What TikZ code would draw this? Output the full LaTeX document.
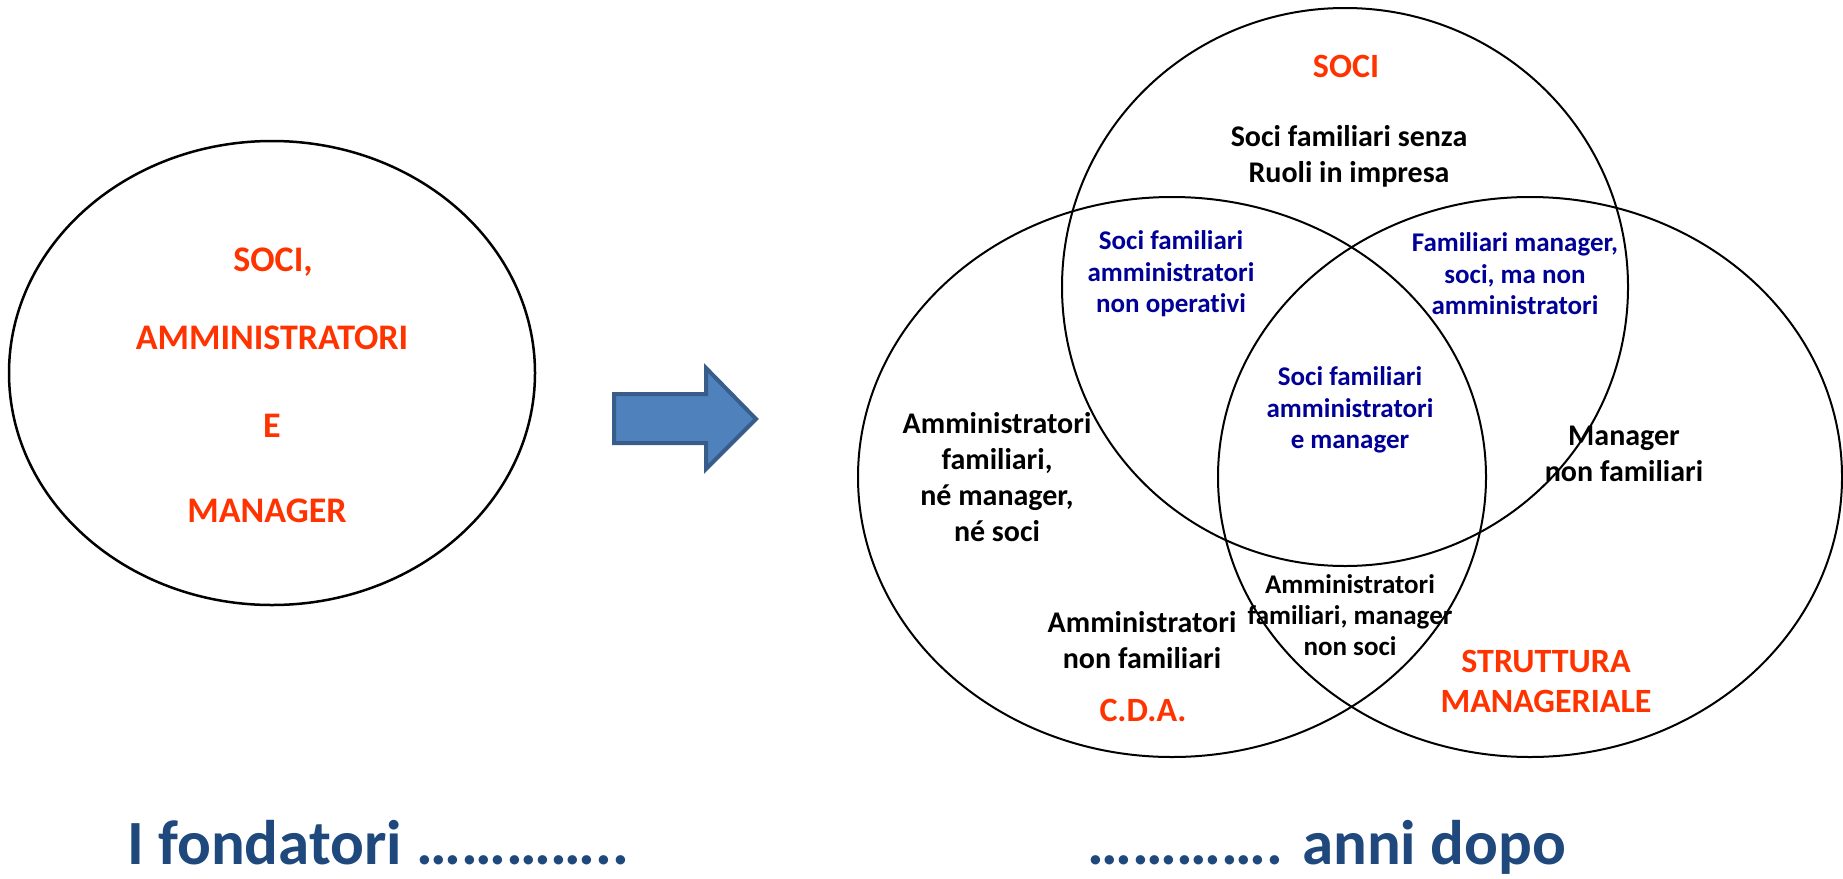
\documentclass[tikz,border=0pt]{standalone}
\usepackage{fontspec}
\setmainfont{Carlito}[Ligatures=CommonOff]
\usetikzlibrary{shapes.geometric}

\definecolor{hot}{RGB}{255,51,0}
\definecolor{navy}{RGB}{0,0,150}
\definecolor{titleblue}{RGB}{31,73,125}
\definecolor{arrowfill}{RGB}{79,129,189}
\definecolor{arrowedge}{RGB}{56,93,138}

\tikzset{
  set/.style={draw=black, line width=2pt, ellipse, inner sep=0pt},
  heading/.style={text=hot, font=\fontsize{34}{40}\selectfont\bfseries, align=center},
  founders/.style={text=hot, font=\fontsize{36}{43}\selectfont\bfseries},
  role/.style={text=black, font=\fontsize{30}{36}\selectfont\bfseries, align=center},
  family/.style={text=navy, font=\fontsize{27}{31.5}\selectfont\bfseries, align=center},
  small/.style={text=black, font=\fontsize{27}{31}\selectfont\bfseries, align=center},
  caption/.style={text=titleblue, font=\fontsize{63}{76}\selectfont\bfseries, anchor=base west, inner sep=0pt},
}

\begin{document}
\begin{tikzpicture}[x=1pt, y=-1pt]
  \useasboundingbox (0,0) rectangle (1843,878);

  % founders: one circle holding every role
  \node[set, line width=2.5pt, minimum width=526pt, minimum height=464pt] (founders) at (272,373) {};
  \node[founders] (f1) at (273,262) {SOCI,};
  \node[founders] (f2) at (272,338) {AMMINISTRATORI};
  \node[founders] (f3) at (272,426) {E};
  \node[founders] (f4) at (267,511) {MANAGER};

  % block arrow
  \draw[fill=arrowfill, draw=arrowedge, line width=4pt, line join=miter]
    (614,394) -- (706,394) -- (706,368) -- (756,419) -- (706,469) -- (706,443) -- (614,443) -- cycle;

  % three overlapping sets
  \node[set, minimum width=566pt, minimum height=558pt] (soci) at (1345,287) {};
  \node[set, minimum width=628pt, minimum height=560pt] (cda) at (1172,477) {};
  \node[set, minimum width=624pt, minimum height=560pt] (mgmt) at (1530,477) {};

  \node[heading] (tsoci) at (1346,66) {SOCI};
  \node[role] (soloSoci) at (1349,156) {Soci familiari senza\\Ruoli in impresa};
  \node[family] (sociCda) at (1171,274) {Soci familiari\\amministratori\\non operativi};
  \node[family] (sociMgmt) at (1515,274) {Familiari manager,\\soci, ma non\\amministratori};
  \node[family] (all) at (1350,410) {Soci familiari\\amministratori\\e manager};
  \node[role] (soloCdaFam) at (997,477) {Amministratori\\familiari,\\né manager,\\né soci};
  \node[role] (soloCdaExt) at (1142,640) {Amministratori\\non familiari};
  \node[heading] (tcda) at (1143,710) {C.D.A.};
  \node[small] (cdaMgmt) at (1350,615) {Amministratori\\familiari, manager\\non soci};
  \node[role] (soloMgmt) at (1624,454) {Manager\\non familiari};
  \node[heading] (tmgmt) at (1546,681) {STRUTTURA\\MANAGERIALE};

  % captions
  \node[caption] (before) at (127,864) {I fondatori …………..};
  \node[caption] (after) at (1087,864) {…………. anni dopo};
\end{tikzpicture}
\end{document}
